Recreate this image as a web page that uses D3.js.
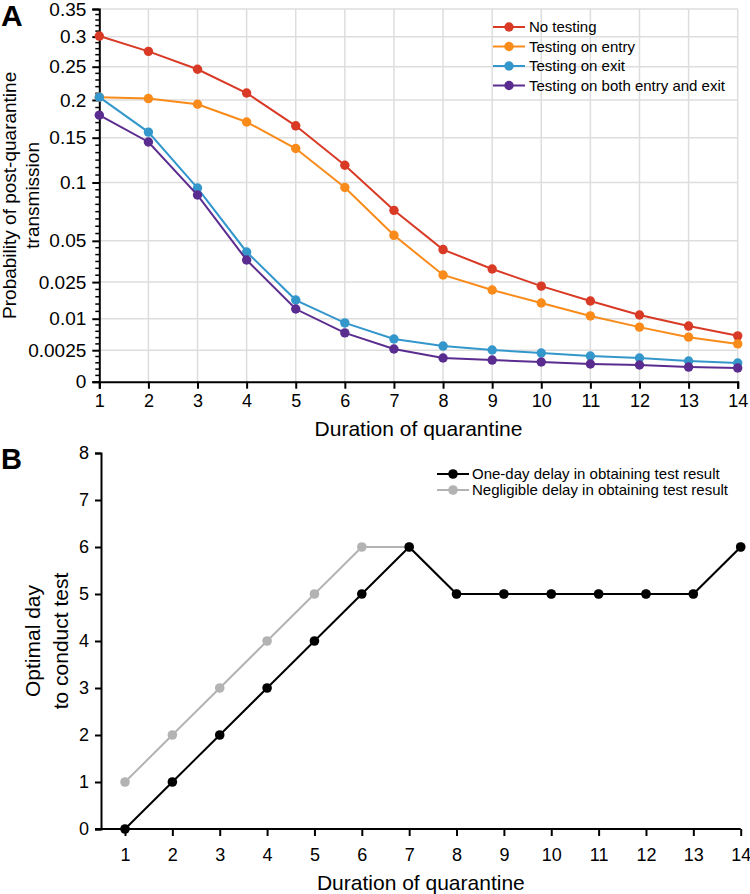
<!DOCTYPE html>
<html>
<head>
<meta charset="utf-8">
<script src="https://cdn.jsdelivr.net/npm/d3@7/dist/d3.min.js"></script>
<style>
  html, body { margin: 0; padding: 0; background: #fff; }
  svg { display: block; font-family: "Liberation Sans", Arial, Helvetica, sans-serif; }
</style>
</head>
<body>
<svg id="chart" width="750" height="894"></svg>
<script>
// ---------- DATA ----------
const days = [1,2,3,4,5,6,7,8,9,10,11,12,13,14];

const noTesting      = [0.301, 0.275, 0.246, 0.210, 0.165, 0.118, 0.074, 0.044, 0.032, 0.023, 0.0164, 0.0112, 0.0078, 0.0053];
const testingEntry   = [0.204, 0.202, 0.194, 0.170, 0.137, 0.095, 0.054, 0.0287, 0.0212, 0.0156, 0.0109, 0.0075, 0.0050, 0.0036];
const testingExit    = [0.204, 0.157, 0.0945, 0.0424, 0.0168, 0.0087, 0.0046, 0.0032, 0.00253, 0.00208, 0.00166, 0.00142, 0.00108, 0.00088];
const testingBoth    = [0.179, 0.1448, 0.0878, 0.0373, 0.0133, 0.0060, 0.0027, 0.00142, 0.00118, 0.00098, 0.00079, 0.00070, 0.00054, 0.00047];

const seriesA = [
  {name: "No testing", values: noTesting, color: "#d83a26"},
  {name: "Testing on entry", values: testingEntry, color: "#f98b1a"},
  {name: "Testing on exit", values: testingExit, color: "#3497cc"},
  {name: "Testing on both entry and exit", values: testingBoth, color: "#5b2c8f"}
];
const yTicksA = [0, 0.0025, 0.01, 0.025, 0.05, 0.1, 0.15, 0.2, 0.25, 0.3, 0.35];
const yTickLabelsA = ["0", "0.0025", "0.01", "0.025", "0.05", "0.1", "0.15", "0.2", "0.25", "0.3", "0.35"];

const oneDayDelay    = [0, 1, 2, 3, 4, 5, 6, 5, 5, 5, 5, 5, 5, 6];
const negligibleDelay = [1, 2, 3, 4, 5, 6, 6, 5, 5, 5, 5, 5, 5, 6];
const seriesB = [
  {name: "Negligible delay in obtaining test result", values: negligibleDelay, color: "#b3b3b3"},
  {name: "One-day delay in obtaining test result", values: oneDayDelay, color: "#000000"}
];
const yTicksB = [0,1,2,3,4,5,6,7,8];

// ---------- DRAW ----------
const svg = d3.select("#chart");

// ===== Panel A =====
const xA = d3.scaleLinear().domain([1, 14]).range([99.3, 737.7]);
const yA = d3.scaleSqrt().domain([0, 0.35]).range([381.7, 9]);
const gA = svg.append("g");

// grid
gA.append("g").selectAll("line.v").data(days.slice(1)).join("line")
  .attr("x1", d => xA(d)).attr("x2", d => xA(d))
  .attr("y1", yA(0)).attr("y2", yA(0.35))
  .attr("stroke", "#dddddd").attr("stroke-width", 1.5);
gA.append("g").selectAll("line.h").data(yTicksA.slice(1)).join("line")
  .attr("x1", xA(1)).attr("x2", xA(14))
  .attr("y1", d => yA(d)).attr("y2", d => yA(d))
  .attr("stroke", "#dddddd").attr("stroke-width", 1.5);

// minor ticks (evenly subdivided between majors)
const minorA = [];
for (let i = 0; i < yTicksA.length - 1; i++) {
  const p0 = yA(yTicksA[i]), p1 = yA(yTicksA[i+1]);
  const gap = p0 - p1;
  const n = Math.max(5, Math.round(gap / 7));
  for (let k = 1; k < n; k++) minorA.push(p0 - gap * k / n);
}
gA.append("g").selectAll("line").data(minorA).join("line")
  .attr("x1", xA(1) - 4).attr("x2", xA(1))
  .attr("y1", d => d).attr("y2", d => d)
  .attr("stroke", "#000").attr("stroke-width", 1.5);

// y axis
const yAxisA = d3.axisLeft(yA).tickValues(yTicksA)
  .tickFormat((d, i) => yTickLabelsA[i]).tickSizeOuter(0).tickSize(7).tickPadding(6);
const yAxA = gA.append("g").attr("transform", `translate(${xA(1)},0)`).call(yAxisA);
yAxA.select(".domain").attr("stroke-width", 2);
yAxA.selectAll(".tick line").attr("stroke-width", 2);
yAxA.selectAll("text").attr("font-size", 19).attr("font-family", "Liberation Sans, Arial, sans-serif").attr("fill", "#000");

// x axis
const xAxisA = d3.axisBottom(xA).tickValues(days).tickFormat(d3.format("d"))
  .tickSizeOuter(0).tickSize(7).tickPadding(6);
const xAxA = gA.append("g").attr("transform", `translate(0,${yA(0)})`).call(xAxisA);
xAxA.select(".domain").attr("stroke-width", 2);
xAxA.selectAll(".tick line").attr("stroke-width", 2);
xAxA.selectAll("text").attr("font-size", 18).attr("font-family", "Liberation Sans, Arial, sans-serif").attr("fill", "#000");

// lines
const lineA = d3.line().x((d, i) => xA(days[i])).y(d => yA(d));
seriesA.forEach(s => {
  gA.append("path").datum(s.values).attr("d", lineA)
    .attr("fill", "none").attr("stroke", s.color).attr("stroke-width", 2);
  gA.append("g").selectAll("circle").data(s.values).join("circle")
    .attr("cx", (d, i) => xA(days[i])).attr("cy", d => yA(d)).attr("r", 4.7)
    .attr("fill", s.color);
});

// legend A
const legA = gA.append("g");
seriesA.forEach((s, i) => {
  const y = 27 + i * 19.5;
  legA.append("line").attr("x1", 493).attr("x2", 525).attr("y1", y).attr("y2", y)
    .attr("stroke", s.color).attr("stroke-width", 2);
  legA.append("circle").attr("cx", 509).attr("cy", y).attr("r", 4.7).attr("fill", s.color);
  legA.append("text").attr("x", 529).attr("y", y).attr("dy", "0.35em")
    .attr("font-size", 15).text(s.name);
});

// titles A
gA.append("text").attr("x", (xA(1) + xA(14)) / 2).attr("y", 436)
  .attr("text-anchor", "middle").attr("font-size", 21).text("Duration of quarantine");
const yTitleA = gA.append("text").attr("transform", `translate(16,${(yA(0) + yA(0.35)) / 2}) rotate(-90)`)
  .attr("text-anchor", "middle").attr("font-size", 19);
yTitleA.append("tspan").attr("x", 0).attr("dy", 0).text("Probability of post-quarantine");
yTitleA.append("tspan").attr("x", 0).attr("dy", 23).text("transmission");
svg.append("text").attr("x", 1).attr("y", 26).attr("font-size", 30).attr("font-weight", "bold").text("A");

// ===== Panel B =====
const xB = d3.scaleLinear().domain([1, 14]).range([125, 740.7]);
const yB = d3.scaleLinear().domain([0, 8]).range([829, 453]);
const gB = svg.append("g");

// y axis
const yAxisB = d3.axisLeft(yB).tickValues(yTicksB).tickFormat(d3.format("d"))
  .tickSizeOuter(0).tickSize(6).tickPadding(6);
const yAxB = gB.append("g").attr("transform", `translate(101,0)`).call(yAxisB);
yAxB.select(".domain").attr("stroke-width", 2);
yAxB.selectAll(".tick line").attr("stroke-width", 2);
yAxB.selectAll("text").attr("font-size", 18).attr("font-family", "Liberation Sans, Arial, sans-serif").attr("fill", "#000");

// x axis
const xAxisB = d3.axisBottom(xB).tickValues(days).tickFormat(d3.format("d"))
  .tickSizeOuter(0).tickSize(7).tickPadding(12);
const xAxB = gB.append("g").attr("transform", `translate(0,${yB(0)})`).call(xAxisB);
xAxB.select(".domain").attr("d", `M${101 - 6},0H${xB(14)}`).attr("stroke-width", 2);
xAxB.selectAll(".tick line").attr("stroke-width", 2);
xAxB.selectAll("text").attr("font-size", 18).attr("font-family", "Liberation Sans, Arial, sans-serif").attr("fill", "#000");

const lineB = d3.line().x((d, i) => xB(days[i])).y(d => yB(d));
seriesB.forEach(s => {
  gB.append("path").datum(s.values).attr("d", lineB)
    .attr("fill", "none").attr("stroke", s.color).attr("stroke-width", 2);
  gB.append("g").selectAll("circle").data(s.values).join("circle")
    .attr("cx", (d, i) => xB(days[i])).attr("cy", d => yB(d)).attr("r", 4.8)
    .attr("fill", s.color);
});

// legend B
const legendOrderB = [seriesB[1], seriesB[0]];
legendOrderB.forEach((s, i) => {
  const y = 474 + i * 16;
  gB.append("line").attr("x1", 437).attr("x2", 469).attr("y1", y).attr("y2", y)
    .attr("stroke", s.color).attr("stroke-width", 2);
  gB.append("circle").attr("cx", 453).attr("cy", y).attr("r", 4.8).attr("fill", s.color);
  gB.append("text").attr("x", 472).attr("y", y).attr("dy", "0.35em")
    .attr("font-size", 15).text(s.name);
});

gB.append("text").attr("x", (101 + xB(14)) / 2).attr("y", 890)
  .attr("text-anchor", "middle").attr("font-size", 21).text("Duration of quarantine");
const yTitleB = gB.append("text").attr("transform", `translate(40,${yB(4)}) rotate(-90)`)
  .attr("text-anchor", "middle").attr("font-size", 21);
yTitleB.append("tspan").attr("x", 0).attr("dy", 0).text("Optimal day");
yTitleB.append("tspan").attr("x", 0).attr("dy", 28).text("to conduct test");
svg.append("text").attr("x", 1).attr("y", 469).attr("font-size", 29).attr("font-weight", "bold").text("B");
</script>
</body>
</html>
